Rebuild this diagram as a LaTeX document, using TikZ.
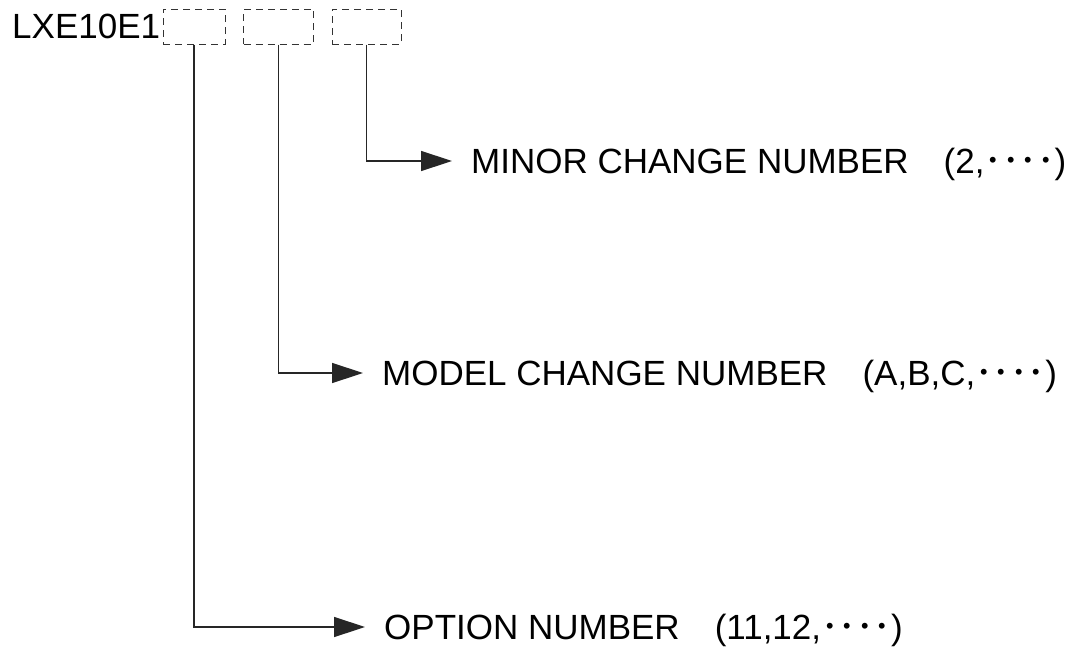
\documentclass[tikz,border=0pt]{standalone}
\usepackage{fontspec}
\setmainfont{Liberation Sans}
\newfontfamily\cjk{Noto Sans CJK JP}
\usepackage{tikz}
\usetikzlibrary{arrows.meta}
\tikzstyle{slot} = [rectangle, 
draw=black!80, 
dash pattern=on 7pt off 5pt, 
line width=1pt, 
minimum height=35pt]
\tikzstyle{field} = [anchor=west, 
inner xsep=0pt, 
text height=25pt, 
text depth=0pt, 
font=\fontsize{35}{40}\selectfont]
\tikzstyle{arrow} = [line width=1.4pt, draw=black!85, shorten >=19pt, 
-{Triangle[length=31pt, width=20pt]}]

\begin{document}
\begin{tikzpicture}[x=1pt, y=-1pt]
    \useasboundingbox (0,0) rectangle (1076,651);
    \node (code) [anchor=west, inner sep=0pt, font=\fontsize{35}{40}\selectfont] at (12,26.5) {LXE10E1};
    \node (slot1) [slot, minimum width=62pt] at (194,26.5) {};
    \node (slot2) [slot, minimum width=70pt] at (278.5,26.5) {};
    \node (slot3) [slot, minimum width=69pt] at (366.5,26.5) {};
    \node (minor) [field] at (471,161) {
      MINOR CHANGE NUMBER{\cjk 　}(2,{\cjk ････})
    };
    \node (model) [field] at (382,373) {
      MODEL CHANGE NUMBER{\cjk 　}(A,B,C,{\cjk ････})
    };
    \node (option) [field] at (384,627) {
      OPTION NUMBER{\cjk 　}(11,12,{\cjk ････})
    };
    
    \draw [arrow] (slot3.south) |- (minor.west);
    \draw [arrow] (slot2.south) |- (model.west);
    \draw [arrow] (slot1.south) |- (option.west);
\end{tikzpicture}
\end{document}
